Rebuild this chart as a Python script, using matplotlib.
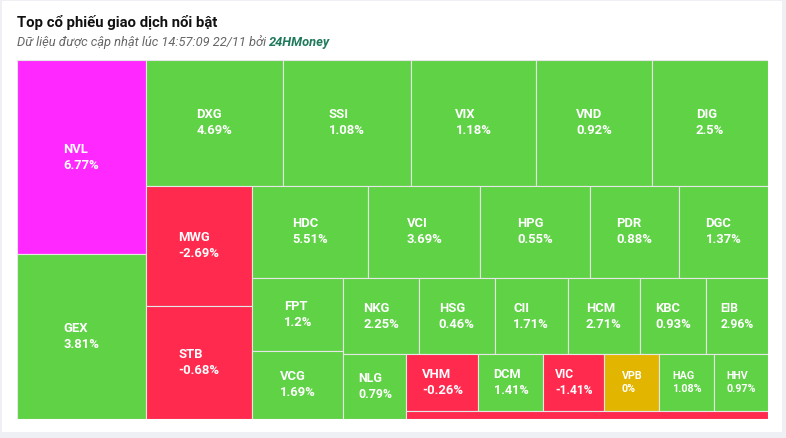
import matplotlib.pyplot as plt
from matplotlib.patches import Rectangle

# Dữ liệu: mã, giá trị giao dịch (ước lượng từ diện tích ô), % thay đổi
tickers = ['NVL', 'GEX', 'DXG', 'SSI', 'VIX', 'VND', 'DIG', 'MWG', 'STB', 'HDC',
           'VCI', 'HPG', 'PDR', 'DGC', 'FPT', 'VCG', 'NKG', 'HSG', 'CII', 'HCM',
           'KBC', 'EIB', 'NLG', 'VHM', 'DCM', 'VIC', 'VPB', 'HAG', 'HHV', 'VRE']
values = [2501, 2120, 1726, 1613, 1575, 1465, 1458, 1276, 1208, 1067,
          1030, 1007, 819, 819, 664, 619, 577, 576, 557, 549,
          509, 471, 409, 408, 369, 346, 312, 310, 306, 290]
changes = [6.77, 3.81, 4.69, 1.08, 1.18, 0.92, 2.5, -2.69, -0.68, 5.51,
           3.69, 0.55, 0.88, 1.37, 1.2, 1.69, 2.25, 0.46, 1.71, 2.71,
           0.93, 2.96, 0.79, -0.26, 1.41, -1.41, 0, 1.08, 0.97, -0.5]

GREEN, RED, YELLOW, PURPLE = '#5fd245', '#ff2a4e', '#e2b600', '#ff29ff'


def color_for(c):
    if c >= 6.5:
        return PURPLE
    if c > 0:
        return GREEN
    if c < 0:
        return RED
    return YELLOW


def squarified(vals, W, H):
    # kiểu squarified của Highcharts: đổi hướng sau mỗi nhóm
    tot = sum(vals)
    areas = [W * H * v / tot for v in vals]
    rx, ry, rw, rh = 0.0, 0.0, float(W), float(H)
    direction = 0
    out = []
    group = []

    def ar(a, b):
        return max(a / b, b / a)

    def commit(g, d, rx, ry, rw, rh):
        s = sum(g)
        if d == 0:
            t = s / rh
            yy = ry
            for a in g:
                out.append((rx, yy, t, a / t))
                yy += a / t
            return rx + t, ry, rw - t, rh
        t = s / rw
        xx = rx
        for a in g:
            out.append((xx, ry, a / t, t))
            xx += a / t
        return rx, ry + t, rw, rh - t

    for a in areas:
        if group:
            side = rh if direction == 0 else rw
            prev = group[-1]
            t_old = sum(group) / side
            t_new = (sum(group) + a) / side
            if ar(t_new, prev / t_new) > ar(t_old, prev / t_old):
                rx, ry, rw, rh = commit(group, direction, rx, ry, rw, rh)
                direction = 1 - direction
                group = []
        group.append(a)
    commit(group, direction, rx, ry, rw, rh)
    return out


fig = plt.figure(figsize=(7.86, 4.38), dpi=100, facecolor='#eef0f4')
fig.patches.append(Rectangle((2 / 786, 6 / 438), 780 / 786, 431 / 438,
                             transform=fig.transFigure, facecolor='white',
                             edgecolor='none', zorder=-10))

W, H = 751, 359
ax = fig.add_axes([17 / 786, 19 / 438, W / 786, H / 438])
ax.set_xlim(0, W)
ax.set_ylim(H, 0)
ax.axis('off')

order = sorted(range(len(values)), key=lambda i: -values[i])
rects = squarified([values[i] for i in order], W, H)
for i, (x, y, w, h) in zip(order, rects):
    ax.add_patch(Rectangle((x, y), w, h, facecolor=color_for(changes[i]),
                           edgecolor='#e6e6e6', linewidth=0.8))
    if h > 20:
        px = min(13, w / 5.1)
        ax.text(x + w / 2, y + h / 2, f"{tickers[i]}\n{changes[i]:g}%",
                ha='center', va='center', multialignment='left',
                color='white', fontsize=px * 0.72, fontweight='bold',
                family='Roboto', linespacing=1.3)

fig.text(17 / 786, 1 - 22 / 438, 'Top cổ phiếu giao dịch nổi bật',
         fontsize=10.7, fontweight='bold', family='Roboto', color='#111111',
         va='center', ha='left')
sub = fig.text(17 / 786, 1 - 42 / 438, 'Dữ liệu được cập nhật lúc 14:57:09 22/11 bởi ',
               fontsize=9.3, style='italic', family='Roboto', color='#666666',
               va='center', ha='left')
ax.annotate('24HMoney', xy=(1, 0), xycoords=sub, va='bottom', ha='left',
            fontsize=9.3, style='italic', fontweight='bold', family='Roboto',
            color='#1f7a5c', annotation_clip=False)

fig.savefig('out.png', dpi=100, facecolor=fig.get_facecolor())
